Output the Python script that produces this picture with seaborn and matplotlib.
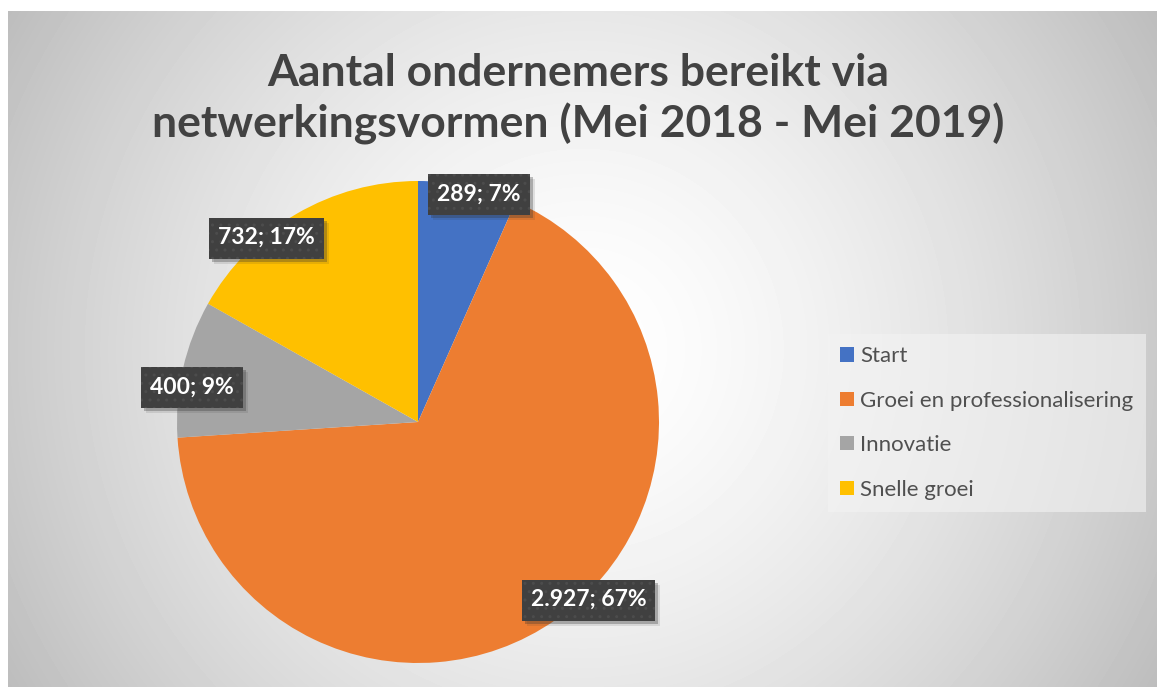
import numpy as np
import seaborn as sns
import matplotlib.pyplot as plt
from matplotlib.patches import Patch, Rectangle
from matplotlib.transforms import IdentityTransform

categories = ["Start", "Groei en professionalisering", "Innovatie", "Snelle groei"]
values = [289, 2927, 400, 732]
colors = ["#4472C4", "#ED7D31", "#A5A5A5", "#FFC000"]
title = "Aantal ondernemers bereikt via\nnetwerkingsvormen (Mei 2018 - Mei 2019)"

sns.set_theme(style="white")
plt.rcParams["font.family"] = ["Lato", "DejaVu Sans"]

W, H = 1157, 687
fig = plt.figure(figsize=(W / 100, H / 100), dpi=100)
fig.patch.set_facecolor("white")

# radial grey background of the chart area
bg = fig.add_axes([8 / W, 0, (W - 8) / W, (H - 11) / H])
yy, xx = np.mgrid[0:H - 11, 0:W - 8]
cx, cy = (W - 8) / 2, (H - 11) / 2
d = np.hypot(xx - cx, yy - cy) / np.hypot(cx, cy)
shade = 1 - 0.26 * d ** 1.5
bg.imshow(shade, cmap="gray", vmin=0, vmax=1, aspect="auto", interpolation="bilinear")
bg.set_axis_off()

fig.text(0.5, 1 - 99 / H, title, ha="center", va="center", fontsize=32,
         fontweight="bold", color="#424242", linespacing=1.3)

# pie
r = 241
ax = fig.add_axes([(418 - r) / W, (H - 422 - r) / H, 2 * r / W, 2 * r / H])
wedges, _ = ax.pie(values, colors=colors, startangle=90, counterclock=False,
                   radius=1, wedgeprops=dict(linewidth=0))
ax.set_xlim(-1, 1)
ax.set_ylim(-1, 1)
ax.set_axis_off()

total = sum(values)
label_shift = [-3, 9, 4, 9]
label_dist = [0.98, 1.02, 0.95, 0.99]
labels = []
for w, v, sh, dist in zip(wedges, values, label_shift, label_dist):
    ang = np.deg2rad((w.theta1 + w.theta2) / 2 + sh)
    txt = f"{v:,}".replace(",", ".") + f"; {round(100 * v / total)}%"
    t = ax.text(dist * np.cos(ang), dist * np.sin(ang), txt, ha="center", va="center",
                fontsize=16.5, fontweight="bold", color="white", zorder=5, clip_on=False)
    labels.append(t)

# dark label boxes with a soft shadow, sized from the rendered text
fig.canvas.draw()
for t in labels:
    bb = t.get_window_extent()
    x0, x1 = bb.x0 - 9, bb.x1 + 9
    yc = (bb.y0 + bb.y1) / 2 - 1
    y0, hgt = yc - 20.5, 41
    for off, a in [(5, 0.12), (3, 0.3)]:
        ax.add_patch(Rectangle((x0 + off, y0 - off), x1 - x0, hgt, transform=IdentityTransform(),
                               fc="#333333", ec="none", alpha=a, zorder=3, clip_on=False))
    ax.add_patch(Rectangle((x0, y0), x1 - x0, hgt, transform=IdentityTransform(),
                           fc="#404040", ec="#4c4c4c", lw=0, hatch="..", zorder=4,
                           clip_on=False))

handles = [Patch(facecolor=c, edgecolor="none") for c in colors]
leg = fig.legend(handles, categories, loc="center left", bbox_to_anchor=(828 / W, 1 - 423 / H),
                 frameon=True, fontsize=16, labelcolor="#505050", handlelength=0.6,
                 handleheight=0.6, handletextpad=0.3, labelspacing=1.1,
                 borderpad=0.55, borderaxespad=0, fancybox=False)
leg.get_frame().set_facecolor("#f3f3f3")
leg.get_frame().set_alpha(0.6)
leg.get_frame().set_linewidth(0)

fig.savefig("out.png", dpi=100)
